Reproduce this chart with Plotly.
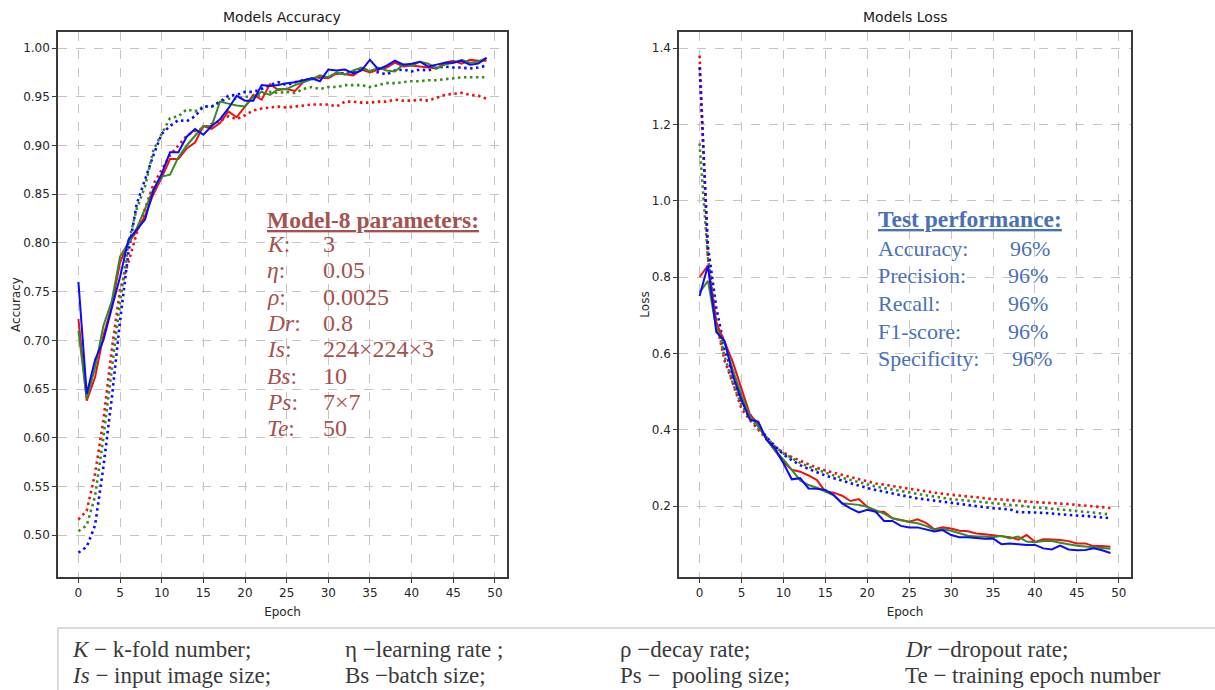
import plotly.graph_objects as go

epochs = list(range(50))

# Training / validation accuracy per model (solid = train, dotted = validation)
acc_train_red = [0.722, 0.638, 0.662, 0.705, 0.735, 0.780, 0.800, 0.812, 0.828, 0.850,
                 0.867, 0.886, 0.886, 0.897, 0.903, 0.920, 0.917, 0.923, 0.935, 0.929,
                 0.940, 0.952, 0.947, 0.963, 0.957, 0.958, 0.956, 0.965, 0.969, 0.970,
                 0.969, 0.974, 0.973, 0.972, 0.978, 0.975, 0.978, 0.980, 0.985, 0.981,
                 0.982, 0.981, 0.980, 0.979, 0.985, 0.987, 0.984, 0.988, 0.987, 0.987]
acc_train_green = [0.710, 0.640, 0.672, 0.715, 0.740, 0.786, 0.800, 0.815, 0.835, 0.855,
                   0.868, 0.870, 0.888, 0.900, 0.910, 0.920, 0.920, 0.945, 0.943, 0.941,
                   0.940, 0.950, 0.955, 0.952, 0.958, 0.958, 0.962, 0.965, 0.968, 0.972,
                   0.970, 0.975, 0.973, 0.977, 0.980, 0.976, 0.980, 0.977, 0.976, 0.983,
                   0.982, 0.986, 0.984, 0.979, 0.983, 0.985, 0.988, 0.985, 0.986, 0.990]
acc_train_blue = [0.760, 0.645, 0.680, 0.700, 0.733, 0.765, 0.803, 0.813, 0.824, 0.854,
                  0.871, 0.893, 0.893, 0.909, 0.917, 0.911, 0.920, 0.927, 0.938, 0.951,
                  0.946, 0.946, 0.962, 0.961, 0.962, 0.964, 0.965, 0.967, 0.969, 0.966,
                  0.978, 0.977, 0.978, 0.974, 0.977, 0.988, 0.978, 0.982, 0.987, 0.983,
                  0.984, 0.986, 0.981, 0.983, 0.985, 0.985, 0.987, 0.983, 0.984, 0.990]
acc_val_red = [0.516, 0.525, 0.563, 0.618, 0.690, 0.752, 0.780, 0.810, 0.835, 0.860,
               0.875, 0.890, 0.900, 0.910, 0.915, 0.918, 0.922, 0.925, 0.930, 0.927,
               0.931, 0.936, 0.938, 0.939, 0.940, 0.939, 0.940, 0.941, 0.942, 0.942,
               0.942, 0.940, 0.945, 0.945, 0.944, 0.944, 0.945, 0.945, 0.947, 0.946,
               0.946, 0.947, 0.946, 0.949, 0.952, 0.953, 0.954, 0.952, 0.951, 0.948]
acc_val_green = [0.504, 0.510, 0.540, 0.600, 0.670, 0.740, 0.800, 0.835, 0.858, 0.895,
                 0.912, 0.928, 0.930, 0.937, 0.935, 0.940, 0.940, 0.945, 0.948, 0.948,
                 0.950, 0.950, 0.952, 0.955, 0.954, 0.955, 0.954, 0.958, 0.960, 0.958,
                 0.960, 0.960, 0.962, 0.962, 0.962, 0.960, 0.962, 0.964, 0.964, 0.965,
                 0.966, 0.966, 0.967, 0.967, 0.968, 0.969, 0.970, 0.970, 0.970, 0.970]
acc_val_blue = [0.482, 0.488, 0.510, 0.570, 0.640, 0.720, 0.790, 0.840, 0.865, 0.890,
                0.912, 0.920, 0.926, 0.925, 0.930, 0.940, 0.940, 0.945, 0.951, 0.952,
                0.955, 0.955, 0.958, 0.962, 0.965, 0.962, 0.965, 0.967, 0.968, 0.970,
                0.970, 0.974, 0.974, 0.976, 0.978, 0.977, 0.975, 0.973, 0.977, 0.978,
                0.976, 0.978, 0.977, 0.980, 0.981, 0.980, 0.980, 0.979, 0.980, 0.982]

# Training / validation loss per model
loss_train_red = [0.800, 0.830, 0.680, 0.630, 0.575, 0.505, 0.440, 0.415, 0.375, 0.345,
                  0.315, 0.295, 0.290, 0.280, 0.268, 0.238, 0.235, 0.227, 0.213, 0.218,
                  0.198, 0.185, 0.185, 0.168, 0.163, 0.159, 0.165, 0.156, 0.139, 0.144,
                  0.141, 0.135, 0.134, 0.128, 0.126, 0.124, 0.121, 0.118, 0.112, 0.124,
                  0.106, 0.113, 0.112, 0.111, 0.108, 0.102, 0.102, 0.095, 0.095, 0.093]
loss_train_green = [0.760, 0.790, 0.665, 0.625, 0.555, 0.490, 0.435, 0.410, 0.375, 0.345,
                    0.322, 0.295, 0.267, 0.255, 0.248, 0.238, 0.228, 0.207, 0.205, 0.203,
                    0.198, 0.190, 0.180, 0.168, 0.162, 0.158, 0.155, 0.148, 0.138, 0.140,
                    0.135, 0.128, 0.122, 0.120, 0.120, 0.118, 0.122, 0.115, 0.120, 0.107,
                    0.105, 0.108, 0.108, 0.104, 0.100, 0.096, 0.094, 0.092, 0.090, 0.088]
loss_train_blue = [0.750, 0.830, 0.656, 0.632, 0.540, 0.478, 0.426, 0.421, 0.373, 0.351,
                   0.312, 0.270, 0.273, 0.246, 0.245, 0.242, 0.229, 0.207, 0.194, 0.183,
                   0.190, 0.185, 0.161, 0.161, 0.148, 0.144, 0.144, 0.139, 0.133, 0.137,
                   0.124, 0.118, 0.118, 0.116, 0.114, 0.115, 0.100, 0.102, 0.100, 0.098,
                   0.098, 0.089, 0.086, 0.096, 0.086, 0.084, 0.085, 0.089, 0.084, 0.077]
loss_val_red = [1.380, 0.850, 0.680, 0.580, 0.520, 0.455, 0.425, 0.400, 0.375, 0.355,
                0.340, 0.328, 0.318, 0.308, 0.300, 0.293, 0.287, 0.281, 0.276, 0.270,
                0.263, 0.259, 0.256, 0.252, 0.248, 0.245, 0.242, 0.238, 0.235, 0.232,
                0.229, 0.227, 0.225, 0.223, 0.220, 0.218, 0.217, 0.215, 0.213, 0.212,
                0.210, 0.209, 0.208, 0.206, 0.205, 0.203, 0.201, 0.199, 0.198, 0.195]
loss_val_green = [1.150, 0.850, 0.680, 0.590, 0.520, 0.465, 0.430, 0.405, 0.378, 0.355,
                  0.338, 0.325, 0.313, 0.303, 0.295, 0.287, 0.280, 0.274, 0.268, 0.262,
                  0.255, 0.251, 0.247, 0.243, 0.239, 0.235, 0.232, 0.228, 0.225, 0.221,
                  0.218, 0.216, 0.214, 0.211, 0.209, 0.207, 0.205, 0.203, 0.201, 0.199,
                  0.196, 0.195, 0.193, 0.191, 0.189, 0.187, 0.185, 0.183, 0.181, 0.178]
loss_val_blue = [1.350, 0.880, 0.720, 0.610, 0.540, 0.475, 0.440, 0.410, 0.380, 0.357,
                 0.335, 0.320, 0.307, 0.297, 0.288, 0.280, 0.273, 0.266, 0.260, 0.254,
                 0.247, 0.242, 0.237, 0.233, 0.228, 0.224, 0.220, 0.217, 0.213, 0.210,
                 0.207, 0.205, 0.203, 0.200, 0.197, 0.194, 0.193, 0.191, 0.184, 0.184,
                 0.183, 0.182, 0.180, 0.178, 0.177, 0.175, 0.174, 0.172, 0.171, 0.168]

param_labels = ["<i>K</i>:", "<i>η</i>:", "<i>ρ</i>:", "<i>Dr</i>:", "<i>Is</i>:",
                "<i>Bs</i>:", "<i>Ps</i>:", "<i>Te</i>:"]
param_values = ["3", "0.05", "0.0025", "0.8", "224×224×3", "10", "7×7", "50"]

perf_labels = ["Accuracy:", "Precision:", "Recall:", "F1-score:", "Specificity:"]
perf_values = ["96%", "96%", "96%", "96%", "96%"]

footer_row1 = ["<i>K</i> − k-fold number;", "η −learning rate ;", "ρ −decay rate;",
               "<i>Dr</i> −dropout rate;"]
footer_row2 = ["<i>Is</i> − input image size;", "Bs −batch size;", "Ps −  pooling size;",
               "Te − training epoch number"]

RED = "#f01010"
GREEN = "#3a8a22"
BLUE = "#0a0aff"
PARAM_COLOR = "#a5514f"
PERF_COLOR = "#4a70b8"
W, H = 1215, 690

fig = go.Figure()


def add_series(ys, color, dotted, xa, ya):
    fig.add_trace(go.Scatter(
        x=epochs, y=ys, mode="lines", xaxis=xa, yaxis=ya, showlegend=False,
        line=dict(color=color, width=2.6 if dotted else 2,
                  dash="2.5px,3.5px" if dotted else "solid"),
    ))


for ys, c in [(acc_val_red, RED), (acc_val_green, GREEN), (acc_val_blue, BLUE)]:
    add_series(ys, c, True, "x", "y")
for ys, c in [(acc_train_red, RED), (acc_train_green, GREEN), (acc_train_blue, BLUE)]:
    add_series(ys, c, False, "x", "y")
for ys, c in [(loss_val_red, RED), (loss_val_green, GREEN), (loss_val_blue, BLUE)]:
    add_series(ys, c, True, "x2", "y2")
for ys, c in [(loss_train_red, RED), (loss_train_green, GREEN), (loss_train_blue, BLUE)]:
    add_series(ys, c, False, "x2", "y2")

tick_font = dict(family="DejaVu Sans", size=12, color="#262626")
label_font = dict(family="DejaVu Sans", size=12, color="#262626")
axis_common = dict(
    showline=True, mirror=True, linecolor="#3a3a3a", linewidth=1.5,
    showgrid=True, gridcolor="#c4c4c4", gridwidth=1, griddash="dash",
    zeroline=False, ticks="outside", ticklen=4, tickcolor="#3a3a3a",
    tickfont=tick_font,
)
y_dom = [1 - 577 / H, 1 - 32 / H]

fig.update_layout(
    width=W, height=H, margin=dict(l=0, r=0, t=0, b=0),
    paper_bgcolor="white", plot_bgcolor="white",
    xaxis=dict(domain=[58 / W, 507 / W], range=[-2.45, 51.45], tickvals=list(range(0, 51, 5)),
               title=dict(text="Epoch", font=label_font, standoff=8),
               anchor="y", **axis_common),
    yaxis=dict(domain=y_dom, range=[0.457, 1.0165], tickvals=[0.50 + 0.05 * i for i in range(11)],
               tickformat=".2f",
               title=dict(text="Accuracy", font=label_font, standoff=0),
               anchor="x", **axis_common),
    xaxis2=dict(domain=[679 / W, 1131 / W], range=[-2.45, 51.45], tickvals=list(range(0, 51, 5)),
                title=dict(text="Epoch", font=label_font, standoff=8),
                anchor="y2", **axis_common),
    yaxis2=dict(domain=y_dom, range=[0.014, 1.442], tickvals=[0.2, 0.4, 0.6, 0.8, 1.0, 1.2, 1.4],
                tickformat=".1f",
                title=dict(text="Loss", font=label_font, standoff=0),
                anchor="x2", **axis_common),
)

annotations = []

# Panel titles
for txt, cx in [("Models Accuracy", 282), ("Models Loss", 905)]:
    annotations.append(dict(text=txt, x=cx / W, y=1 - 17 / H, xref="paper", yref="paper",
                            showarrow=False, xanchor="center", yanchor="middle",
                            font=dict(family="DejaVu Sans", size=14, color="#1a1a1a")))

SERIF = "Liberation Serif"

# Model parameter block
annotations.append(dict(text="<b><u>Model-8 parameters:</u></b>", x=265 / W, y=1 - 220 / H,
                        xref="paper", yref="paper", showarrow=False, xanchor="left",
                        yanchor="middle", font=dict(family=SERIF, size=23.5, color=PARAM_COLOR)))
for i, (lab, val) in enumerate(zip(param_labels, param_values)):
    yy = 244 + 26.3 * i
    annotations.append(dict(text=lab, x=265 / W, y=1 - yy / H, xref="paper", yref="paper",
                            showarrow=False, xanchor="left", yanchor="middle",
                            font=dict(family=SERIF, size=23.5, color=PARAM_COLOR)))
    annotations.append(dict(text=val, x=321 / W, y=1 - yy / H, xref="paper", yref="paper",
                            showarrow=False, xanchor="left", yanchor="middle",
                            font=dict(family=SERIF, size=24, color=PARAM_COLOR)))

# Test performance block
annotations.append(dict(text="<b><u>Test performance:</u></b>", x=876 / W, y=1 - 219 / H,
                        xref="paper", yref="paper", showarrow=False, xanchor="left",
                        yanchor="middle", font=dict(family=SERIF, size=23.5, color=PERF_COLOR)))
perf_val_x = [1008, 1006, 1006, 1006, 1010]
for i, (lab, val) in enumerate(zip(perf_labels, perf_values)):
    yy = 248 + 27.7 * i
    annotations.append(dict(text=lab, x=876 / W, y=1 - yy / H, xref="paper", yref="paper",
                            showarrow=False, xanchor="left", yanchor="middle",
                            font=dict(family=SERIF, size=22, color=PERF_COLOR)))
    annotations.append(dict(text=val, x=perf_val_x[i] / W, y=1 - yy / H, xref="paper",
                            yref="paper", showarrow=False, xanchor="left", yanchor="middle",
                            font=dict(family=SERIF, size=22, color=PERF_COLOR)))

# Abbreviation key below the charts
col_x = [70, 343, 618, 903]
for row, yy in [(footer_row1, 649), (footer_row2, 675)]:
    for txt, cx in zip(row, col_x):
        annotations.append(dict(text=txt, x=cx / W, y=1 - yy / H, xref="paper", yref="paper",
                                showarrow=False, xanchor="left", yanchor="middle",
                                font=dict(family=SERIF, size=23, color="#3a3a3a")))

fig.update_layout(annotations=annotations)

fig.add_shape(type="path", xref="paper", yref="paper",
              path=f"M {58 / W},0 L {58 / W},{1 - 628 / H} L 1,{1 - 628 / H}",
              line=dict(color="#cfcfcf", width=1.5))

fig.write_html("out.html")
